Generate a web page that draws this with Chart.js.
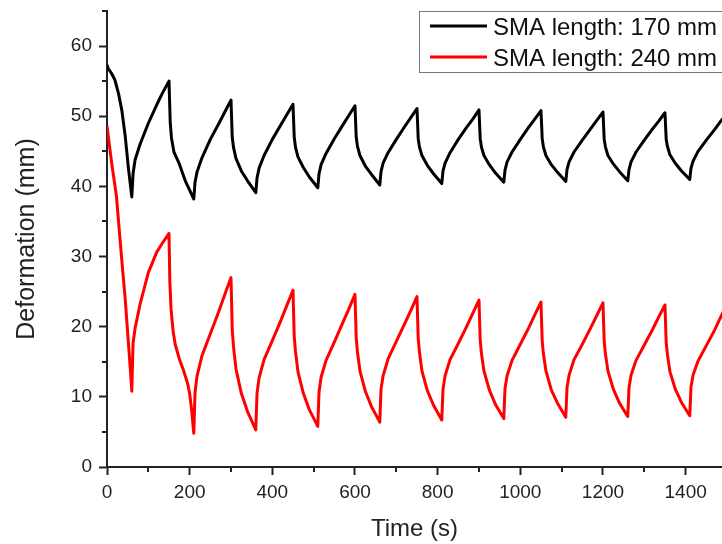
<!DOCTYPE html>
<html>
<head>
<meta charset="utf-8">
<script src="https://cdn.jsdelivr.net/npm/chart.js@4.4.1/dist/chart.umd.min.js"></script>
<style>
  html, body { margin: 0; padding: 0; background: #fff; }
  #wrap { width: 722px; height: 544px; }
</style>
</head>
<body>
<div id="wrap"><canvas id="deformationChart" width="722" height="544"></canvas></div>
<script>
// series labels
const seriesLabels = ['SMA length: 170 mm', 'SMA length: 240 mm'];

// time samples (s) for the 170 mm sample
const blackTime = [0, 3, 10, 19, 28, 36, 44, 52, 60,
  63, 68, 80, 100, 120, 135, 150,
  153, 156, 162, 175, 190, 210,
  213, 218, 230, 250, 270, 285, 300,
  303, 306, 312, 325, 340, 360,
  363, 368, 380, 400, 420, 435, 450,
  453, 456, 462, 475, 490, 510,
  513, 518, 530, 550, 570, 585, 600,
  603, 606, 612, 625, 640, 660,
  663, 668, 680, 700, 720, 735, 750,
  753, 756, 762, 775, 790, 810,
  813, 818, 830, 850, 870, 885, 900,
  903, 906, 912, 925, 940, 960,
  963, 968, 980, 1000, 1020, 1035, 1050,
  1053, 1056, 1062, 1075, 1090, 1110,
  1113, 1118, 1130, 1150, 1170, 1185, 1200,
  1203, 1206, 1212, 1225, 1240, 1260,
  1263, 1268, 1280, 1300, 1320, 1335, 1350,
  1353, 1356, 1362, 1375, 1390, 1410,
  1413, 1418, 1430, 1450, 1470, 1485, 1500];

const blackDeformation = [57.3, 56.8, 56.2, 55.2, 53.2, 50.8, 47.2, 42.5, 38.5,
  41.8, 43.8, 46.0, 49.0, 51.6, 53.4, 55.0,
  49.1, 46.9, 44.9, 43.2, 40.7, 38.2,
  40.6, 42.1, 44.1, 46.7, 48.9, 50.6, 52.3,
  47.0, 45.6, 44.0, 42.2, 40.8, 39.1,
  41.2, 42.6, 44.4, 46.7, 48.7, 50.2, 51.7,
  47.0, 45.6, 44.2, 42.7, 41.3, 39.8,
  41.8, 43.1, 44.7, 46.8, 48.7, 50.1, 51.5,
  47.0, 45.7, 44.4, 42.9, 41.7, 40.2,
  42.1, 43.3, 44.8, 46.7, 48.5, 49.8, 51.1,
  46.8, 45.6, 44.4, 43.0, 41.8, 40.4,
  42.2, 43.3, 44.8, 46.7, 48.4, 49.6, 50.9,
  46.8, 45.6, 44.4, 43.1, 41.9, 40.6,
  42.3, 43.5, 44.9, 46.7, 48.4, 49.6, 50.8,
  46.8, 45.6, 44.4, 43.1, 42.0, 40.7,
  42.4, 43.5, 44.9, 46.6, 48.2, 49.4, 50.6,
  46.7, 45.6, 44.4, 43.2, 42.1, 40.8,
  42.4, 43.5, 44.9, 46.6, 48.2, 49.3, 50.5,
  46.7, 45.7, 44.5, 43.3, 42.2, 41.0,
  42.6, 43.6, 45.0, 46.6, 48.1, 49.3, 50.4];

// time samples (s) for the 240 mm sample
const redTime = [0, 6, 12, 19, 23, 30, 38, 44, 52, 57, 60,
  63, 68, 80, 100, 120, 135, 150,
  152, 155, 160, 165, 175, 185, 195, 200, 205, 210,
  213, 218, 230, 250, 270, 285, 300,
  303, 306, 312, 325, 340, 360,
  363, 368, 380, 400, 420, 435, 450,
  453, 456, 462, 475, 490, 510,
  513, 518, 530, 550, 570, 585, 600,
  603, 606, 612, 625, 640, 660,
  663, 668, 680, 700, 720, 735, 750,
  753, 756, 762, 775, 790, 810,
  813, 818, 830, 850, 870, 885, 900,
  903, 906, 912, 925, 940, 960,
  963, 968, 980, 1000, 1020, 1035, 1050,
  1053, 1056, 1062, 1075, 1090, 1110,
  1113, 1118, 1130, 1150, 1170, 1185, 1200,
  1203, 1206, 1212, 1225, 1240, 1260,
  1263, 1268, 1280, 1300, 1320, 1335, 1350,
  1353, 1356, 1362, 1375, 1390, 1410,
  1413, 1418, 1430, 1450, 1470, 1485, 1500];

const redDeformation = [48.6, 45.8, 43.0, 40.2, 38.5, 33.5, 28.0, 24.0, 17.5, 13.5, 10.8,
  17.6, 19.8, 23.2, 27.7, 30.6, 32.0, 33.3,
  26.5, 22.5, 19.3, 17.5, 15.4, 13.8, 11.9, 10.5, 8.0, 4.8,
  10.6, 13.0, 15.9, 19.0, 22.1, 24.6, 27.0,
  19.6, 17.2, 14.0, 10.5, 7.9, 5.3,
  10.5, 12.7, 15.3, 18.0, 20.8, 23.0, 25.2,
  18.6, 16.5, 13.6, 10.5, 8.1, 5.8,
  10.7, 12.8, 15.2, 17.8, 20.5, 22.5, 24.6,
  18.4, 16.4, 13.7, 10.8, 8.6, 6.4,
  11.1, 13.0, 15.4, 17.9, 20.4, 22.3, 24.3,
  18.3, 16.4, 13.7, 10.9, 8.8, 6.7,
  11.1, 13.0, 15.3, 17.6, 20.0, 21.9, 23.8,
  18.1, 16.2, 13.7, 11.0, 8.9, 6.9,
  11.2, 13.0, 15.2, 17.5, 19.8, 21.7, 23.5,
  17.9, 16.1, 13.7, 11.0, 9.1, 7.1,
  11.3, 13.1, 15.3, 17.5, 19.8, 21.6, 23.4,
  17.9, 16.1, 13.7, 11.1, 9.1, 7.2,
  11.3, 13.1, 15.2, 17.4, 19.6, 21.4, 23.1,
  17.7, 16.0, 13.6, 11.1, 9.2, 7.3,
  11.4, 13.1, 15.1, 17.3, 19.5, 21.4, 23.2];

// minor tick values
const xMinorTicks = [100, 300, 500, 700, 900, 1100, 1300];
const yMinorTicks = [5, 15, 25, 35, 45, 55, 65];

const FONT = "'Liberation Sans', Arial, sans-serif";
const AXIS_COLOR = '#222';

const toPoints = (xs, ys) => xs.map((x, i) => ({ x: x, y: ys[i] }));

// small outward minor ticks, placed through the scales
const minorTicks = {
  id: 'minorTicks',
  afterDraw(chart) {
    const { ctx, scales, chartArea } = chart;
    ctx.save();
    ctx.strokeStyle = AXIS_COLOR;
    ctx.lineWidth = 2;
    ctx.beginPath();
    xMinorTicks.forEach((v) => {
      const px = Math.round(scales.x.getPixelForValue(v));
      ctx.moveTo(px, chartArea.bottom + 1);
      ctx.lineTo(px, chartArea.bottom + 5);
    });
    yMinorTicks.forEach((v) => {
      const py = Math.round(scales.y.getPixelForValue(v));
      ctx.moveTo(chartArea.left - 1, py);
      ctx.lineTo(chartArea.left - 5, py);
    });
    ctx.stroke();
    ctx.restore();
  },
};

// boxed legend in the top right corner
const boxLegend = {
  id: 'boxLegend',
  afterDraw(chart) {
    const ctx = chart.ctx;
    ctx.save();
    ctx.strokeStyle = '#777';
    ctx.lineWidth = 1;
    ctx.strokeRect(419.5, 11.5, 330, 61);
    ctx.font = '24px ' + FONT;
    ctx.textBaseline = 'alphabetic';
    ctx.fillStyle = '#111';
    chart.data.datasets.forEach((ds, i) => {
      const y = 26 + i * 31;
      ctx.strokeStyle = ds.borderColor;
      ctx.lineWidth = 3;
      ctx.beginPath();
      ctx.moveTo(430, y);
      ctx.lineTo(487, y);
      ctx.stroke();
      ctx.fillText(ds.label, 493, y + 9);
    });
    ctx.restore();
  },
};

new Chart(document.getElementById('deformationChart'), {
  type: 'line',
  data: {
    datasets: [
      {
        label: seriesLabels[0],
        data: toPoints(blackTime, blackDeformation),
        borderColor: '#000000',
        borderWidth: 3,
        borderJoinStyle: 'round',
        pointRadius: 0,
        tension: 0,
        fill: false,
      },
      {
        label: seriesLabels[1],
        data: toPoints(redTime, redDeformation),
        borderColor: '#ff0000',
        borderWidth: 3,
        borderJoinStyle: 'round',
        pointRadius: 0,
        tension: 0,
        fill: false,
      },
    ],
  },
  options: {
    responsive: false,
    animation: false,
    events: [],
    layout: { padding: { top: 11, right: 0, bottom: 0, left: 0 } },
    plugins: {
      legend: { display: false },
      tooltip: { enabled: false },
    },
    scales: {
      x: {
        type: 'linear',
        min: 0,
        max: 1488,
        border: { color: AXIS_COLOR, width: 2 },
        grid: { drawOnChartArea: false, drawTicks: true, tickLength: 8, tickColor: AXIS_COLOR, tickWidth: 2 },
        ticks: {
          stepSize: 200,
          includeBounds: false,
          maxRotation: 0,
          padding: 6,
          color: '#222',
          font: { family: FONT, size: 19 },
          callback: (v) => String(v),
        },
        title: {
          display: true,
          text: 'Time (s)',
          color: '#222',
          font: { family: FONT, size: 24 },
          padding: { top: 0, bottom: 0 },
        },
        afterFit(scale) {
          scale.height = 77;
          scale.paddingLeft = 0;
          scale.paddingRight = 0;
        },
      },
      y: {
        min: 0,
        max: 65,
        border: { color: AXIS_COLOR, width: 2 },
        grid: { drawOnChartArea: false, drawTicks: true, tickLength: 8, tickColor: AXIS_COLOR, tickWidth: 2 },
        ticks: {
          stepSize: 10,
          includeBounds: false,
          padding: 7,
          color: '#222',
          font: { family: FONT, size: 19 },
          callback: (v) => String(v),
        },
        title: {
          display: true,
          text: 'Deformation (mm)',
          color: '#222',
          font: { family: FONT, size: 25 },
          padding: { top: 12, bottom: 0 },
        },
        afterFit(scale) {
          scale.width = 107;
          scale.paddingTop = 0;
          scale.paddingBottom = 0;
        },
      },
    },
  },
  plugins: [minorTicks, boxLegend],
});
</script>
</body>
</html>
